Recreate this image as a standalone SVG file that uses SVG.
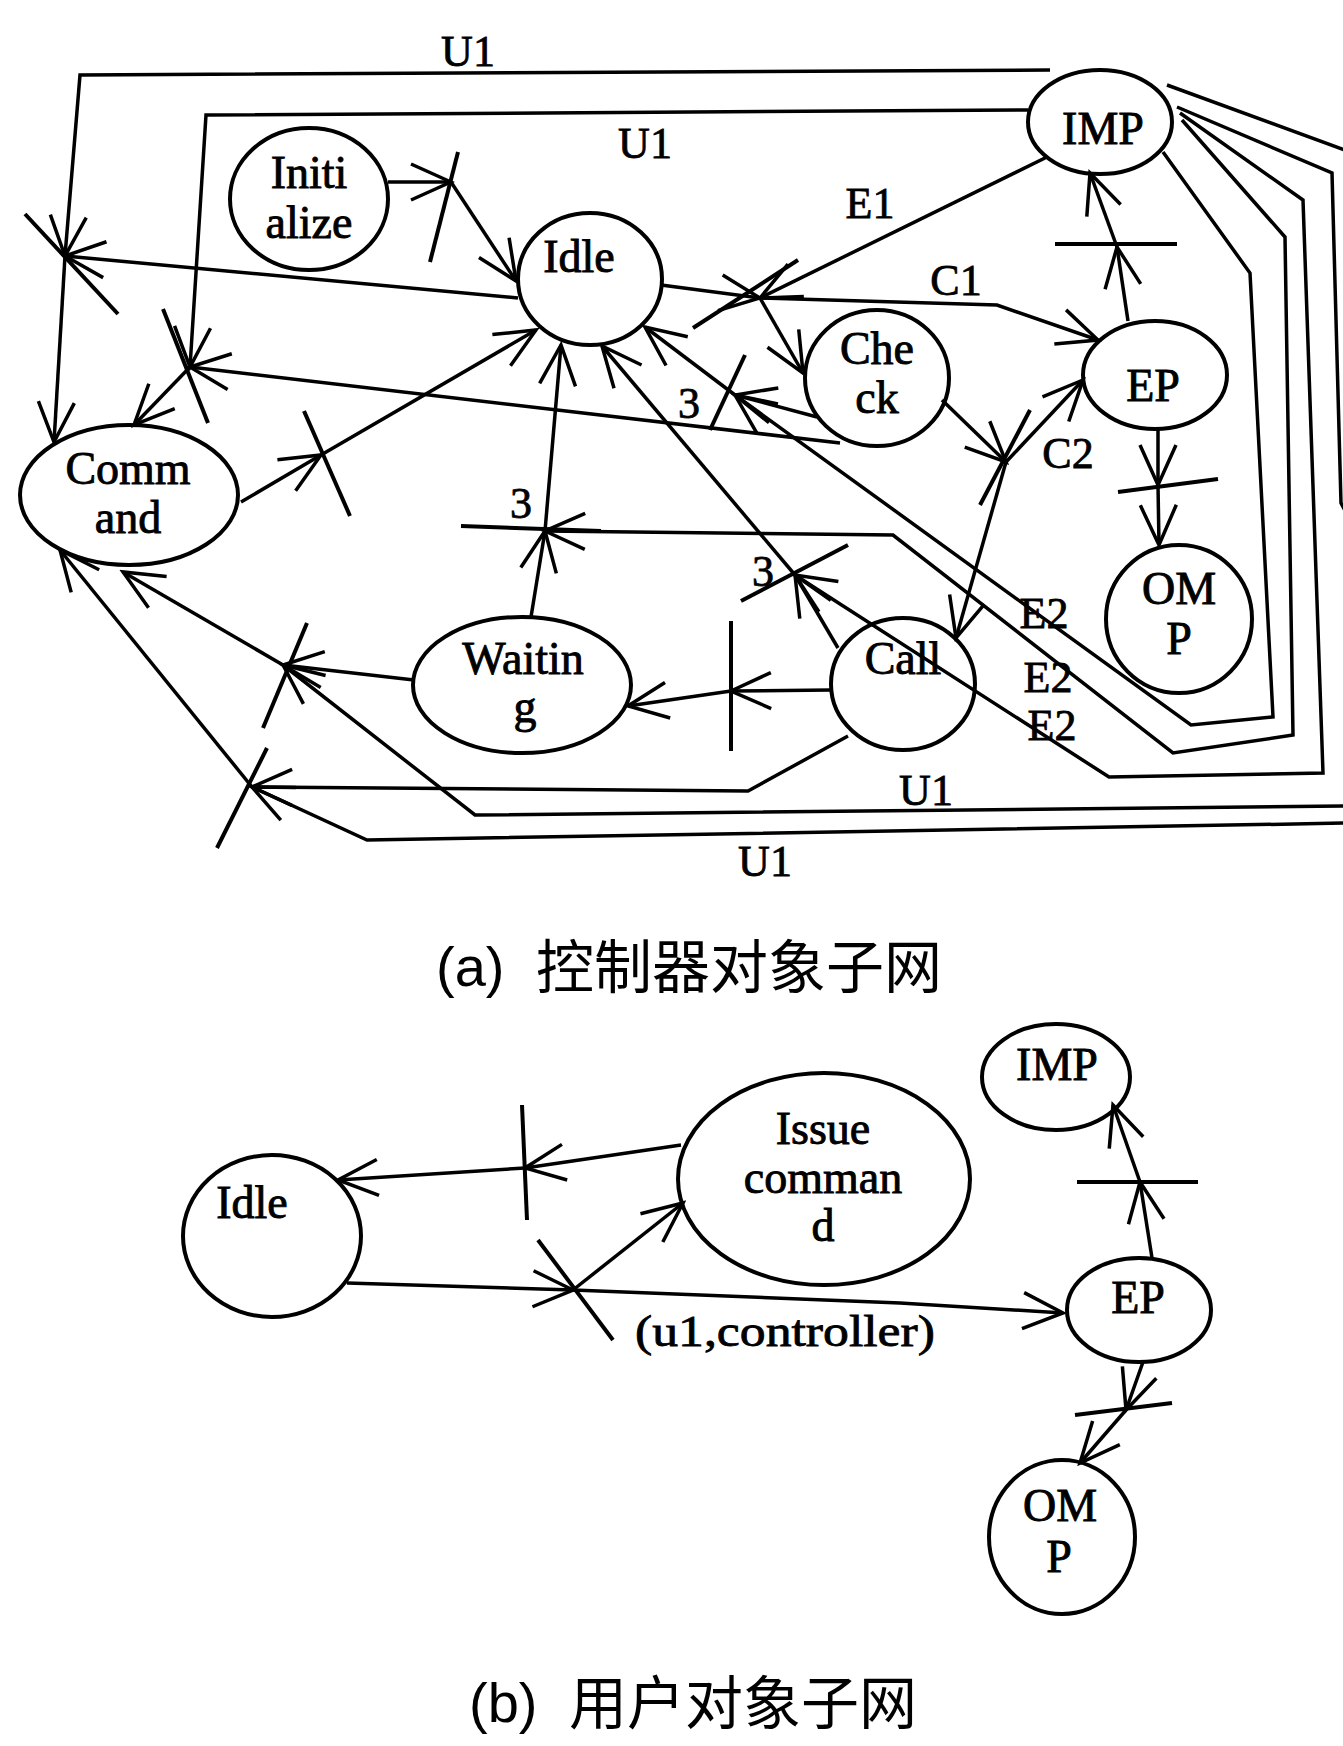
<svg xmlns="http://www.w3.org/2000/svg" width="1343" height="1746" viewBox="0 0 1343 1746">
<style>
.l{fill:none;stroke:#000;stroke-width:3.5;stroke-linejoin:miter}
.a{marker-end:url(#arr)}
.n{fill:none;stroke:#000;stroke-width:4}
.b{stroke:#000;stroke-width:4;stroke-linecap:butt}
.t{font-family:"Liberation Serif","Times New Roman",serif;font-size:46px;text-anchor:middle;fill:#000;stroke:#000;stroke-width:0.9}
.lb{font-family:"Liberation Serif","Times New Roman",serif;font-size:44px;text-anchor:middle;fill:#000;stroke:#000;stroke-width:0.8}
.cap{font-family:"Liberation Sans","Noto Sans CJK SC",sans-serif;font-size:56px;fill:#000}
.cj{font-family:"Noto Sans CJK SC",sans-serif;font-size:58px;fill:#000}
</style>
<defs>
<marker id="arr" viewBox="-44 -22 48 44" markerWidth="48" markerHeight="44" refX="0" refY="0" orient="auto" markerUnits="userSpaceOnUse">
<path d="M-40,-18 L0,0 L-40,18" fill="none" stroke="#000" stroke-width="3.5"/>
</marker>
</defs>
<rect width="1343" height="1746" fill="#fff"/>

<g id="connectors-a">
<path class="l a" d="M1050,70 L80,75 L65,256"/>
<path class="l a" d="M1028,110 L206,115 L190,367"/>
<path class="l a" d="M65,256 L54,442"/>
<path class="l a" d="M518,298 L65,256"/>
<path class="l a" d="M190,367 L134,425"/>
<path class="l a" d="M840,443 L190,367"/>
<path class="l a" d="M241,502 L321,455"/>
<path class="l a" d="M321,455 L536,330"/>
<path class="l a" d="M388,182 L451,182"/>
<path class="l a" d="M451,182 L516,281"/>
<path class="l a" d="M661,285 L760,298"/>
<path class="l a" d="M1047,157 L760,298"/>
<path class="l a" d="M760,298 L803,373"/>
<path class="l a" d="M760,298 L997,305 L1098,340"/>
<path class="l a" d="M817,417 L735,395"/>
<path class="l a" d="M1163,152 L1250,273 L1273,717 L1191,725 L735,395"/>
<path class="l a" d="M735,395 L645,327"/>
<path class="l a" d="M942,400 L1006,462"/>
<path class="l a" d="M1006,462 L1083,380"/>
<path class="l a" d="M1006,462 L956,638"/>
<path class="l a" d="M838,648 L795,575"/>
<path class="l a" d="M1180,113 L1303,200 L1323,773 L1109,777 L795,575"/>
<path class="l a" d="M795,575 L602,346"/>
<path class="l a" d="M1182,120 L1285,237 L1293,735 L1173,753 L893,535 L545,531"/>
<path class="l a" d="M531,617 L545,531"/>
<path class="l a" d="M545,531 L561,345"/>
<path class="l a" d="M831,690 L731,691"/>
<path class="l a" d="M731,691 L628,706"/>
<path class="l a" d="M414,680 L283,665"/>
<path class="l a" d="M283,665 L123,572"/>
<path class="l a" d="M1350,806 L475,815 L283,665"/>
<path class="l a" d="M848,736 L748,791 L252,787"/>
<path class="l a" d="M1350,823 L367,840 L252,787"/>
<path class="l a" d="M252,787 L60,550"/>
<path class="l a" d="M1128,321 L1117,247"/>
<path class="l a" d="M1117,247 L1090,173"/>
<path class="l a" d="M1158,429 L1158,485"/>
<path class="l a" d="M1158,485 L1159,545"/>
<path class="l" d="M1167,85 L1350,152"/>
<path class="l" d="M1177,107 L1332,173 L1341,503 L1350,520"/>
</g>

<g id="transitions-a">
<line class="b" x1="25" y1="214" x2="118" y2="314"/>
<line class="b" x1="163" y1="309" x2="208" y2="423"/>
<line class="b" x1="304" y1="411" x2="350" y2="516"/>
<line class="b" x1="458" y1="152" x2="430" y2="262"/>
<line class="b" x1="693" y1="328" x2="798" y2="260"/>
<line class="b" x1="745" y1="355" x2="710" y2="430"/>
<line class="b" x1="741" y1="601" x2="848" y2="545"/>
<line class="b" x1="461" y1="526" x2="601" y2="531"/>
<line class="b" x1="731" y1="621" x2="731" y2="751"/>
<line class="b" x1="307" y1="623" x2="263" y2="728"/>
<line class="b" x1="267" y1="748" x2="217" y2="848"/>
<line class="b" x1="980" y1="505" x2="1030" y2="410"/>
<line class="b" x1="1055" y1="244" x2="1177" y2="244"/>
<line class="b" x1="1118" y1="492" x2="1218" y2="479"/>
</g>

<g id="IMP-a"><ellipse class="n" cx="1100" cy="122" rx="72" ry="52"/><text class="t" x="1103" y="144">IMP</text></g>
<g id="Initialize"><ellipse class="n" cx="309" cy="199" rx="79" ry="71"/><text class="t" x="309" y="188">Initi</text><text class="t" x="309" y="238">alize</text></g>
<g id="Idle-a"><ellipse class="n" cx="590" cy="279" rx="72" ry="66"/><text class="t" x="579" y="272">Idle</text></g>
<g id="Check"><ellipse class="n" cx="877" cy="378" rx="72" ry="68"/><text class="t" x="877" y="364">Che</text><text class="t" x="877" y="413">ck</text></g>
<g id="EP-a"><ellipse class="n" cx="1155" cy="375" rx="72" ry="54"/><text class="t" x="1153" y="401">EP</text></g>
<g id="Command"><ellipse class="n" cx="129" cy="495" rx="109" ry="70"/><text class="t" x="128" y="484">Comm</text><text class="t" x="128" y="533">and</text></g>
<g id="OMP-a"><ellipse class="n" cx="1179" cy="619" rx="73" ry="74"/><text class="t" x="1179" y="604">OM</text><text class="t" x="1179" y="654">P</text></g>
<g id="Waiting"><ellipse class="n" cx="522" cy="685" rx="109" ry="68"/><text class="t" x="523" y="674">Waitin</text><text class="t" x="525" y="722">g</text></g>
<g id="Call"><ellipse class="n" cx="903" cy="684" rx="72" ry="66"/><text class="t" x="903" y="674">Call</text></g>

<g id="labels-a">
<text class="lb" x="468" y="66">U1</text>
<text class="lb" x="645" y="158">U1</text>
<text class="lb" x="870" y="218">E1</text>
<text class="lb" x="956" y="295">C1</text>
<text class="lb" x="1068" y="468">C2</text>
<text class="lb" x="1044" y="628">E2</text>
<text class="lb" x="1048" y="692">E2</text>
<text class="lb" x="1052" y="740">E2</text>
<text class="lb" x="926" y="805">U1</text>
<text class="lb" x="765" y="876">U1</text>
<text class="lb" x="689" y="418">3</text>
<text class="lb" x="521" y="518">3</text>
<text class="lb" x="763" y="586">3</text>
</g>

<g id="caption-a"><text class="cap" x="436" y="986">(a)</text><text class="cj" x="536" y="988">控制器对象子网</text></g>

<g id="connectors-b">
<path class="l a" d="M681,1145 L525,1168"/>
<path class="l a" d="M525,1168 L338,1180"/>
<path class="l a" d="M347,1283 L573,1290"/>
<path class="l a" d="M573,1290 L683,1203"/>
<path class="l a" d="M573,1290 L900,1303 L1063,1313"/>
<path class="l a" d="M1152,1258 L1140,1182"/>
<path class="l a" d="M1140,1182 L1113,1105"/>
<path class="l a" d="M1143,1362 L1126,1410"/>
<path class="l a" d="M1126,1410 L1080,1463"/>
</g>
<g id="transitions-b">
<line class="b" x1="522" y1="1105" x2="527" y2="1220"/>
<line class="b" x1="538" y1="1240" x2="613" y2="1340"/>
<line class="b" x1="1077" y1="1182" x2="1198" y2="1182"/>
<line class="b" x1="1075" y1="1415" x2="1172" y2="1403"/>
</g>
<g id="Idle-b"><ellipse class="n" cx="272" cy="1236" rx="89" ry="81"/><text class="t" x="252" y="1218">Idle</text></g>
<g id="Issue-command"><ellipse class="n" cx="824" cy="1179" rx="146" ry="106"/><text class="t" x="823" y="1144">Issue</text><text class="t" x="823" y="1193">comman</text><text class="t" x="823" y="1241">d</text></g>
<g id="IMP-b"><ellipse class="n" cx="1056" cy="1077" rx="74" ry="53"/><text class="t" x="1057" y="1080">IMP</text></g>
<g id="EP-b"><ellipse class="n" cx="1139" cy="1310" rx="72" ry="52"/><text class="t" x="1138" y="1313">EP</text></g>
<g id="OMP-b"><ellipse class="n" cx="1062" cy="1537" rx="73" ry="77"/><text class="t" x="1060" y="1521">OM</text><text class="t" x="1059" y="1572">P</text></g>
<g id="labels-b"><text class="lb" x="785" y="1346" textLength="300" lengthAdjust="spacingAndGlyphs">(u1,controller)</text></g>
<g id="caption-b"><text class="cap" x="469" y="1722">(b)</text><text class="cj" x="569" y="1724">用户对象子网</text></g>
</svg>
